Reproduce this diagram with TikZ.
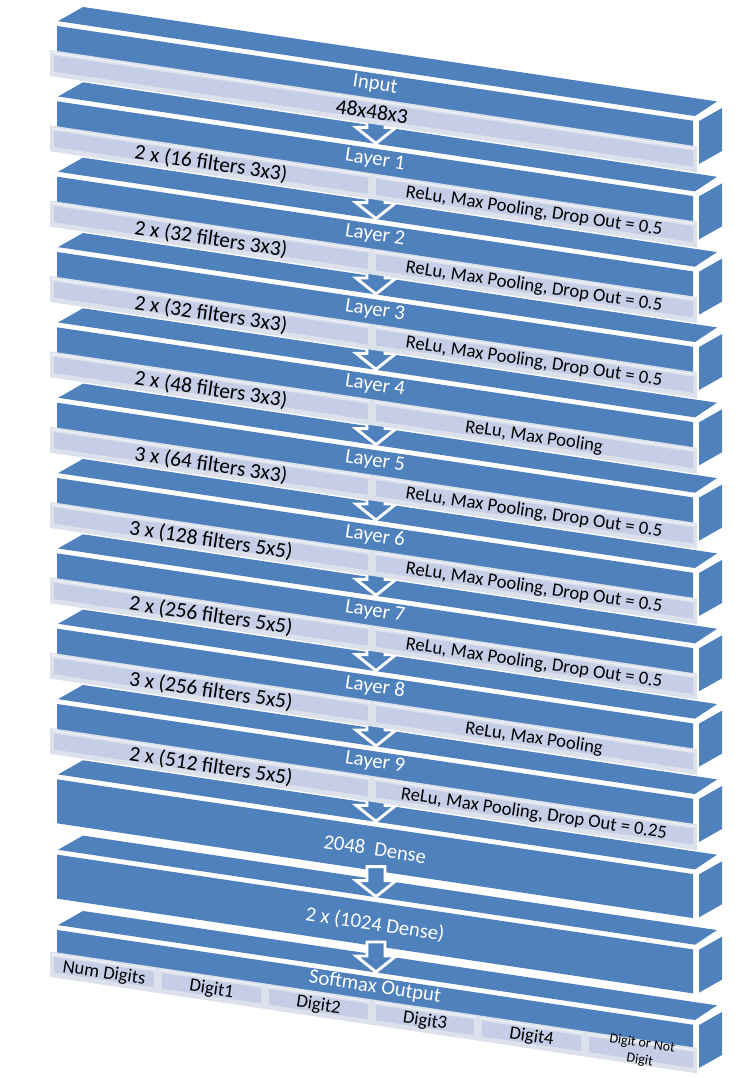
\documentclass[tikz,border=0pt]{standalone}
\usepackage{fontspec}
\setmainfont{Carlito}
\definecolor{slabblue}{HTML}{4F81BD}
\definecolor{barout}{HTML}{DCE1EC}
\definecolor{barin}{HTML}{C5CEE6}
\def\yo{0}
\tikzset{sl/.cd, x/.store in=\slX, h/.store in=\slH}
\tikzdeclarecoordinatesystem{sl}{%
  \tikzset{sl/.cd,#1}%
  \pgfmathsetmacro\slXX{\slX}%
  \pgfmathsetmacro\slY{\yo+0.149*(\slXX-57)+\slH}%
  \pgfpointxy{\slXX}{\slY}%
}
\newcommand{\barcell}[4]{%
  \fill[barout] (sl cs:x=#1,h=#3) -- (sl cs:x=#2,h=#3) -- (sl cs:x=#2,h=#4) -- (sl cs:x=#1,h=#4) -- cycle;
  \fill[barin] (sl cs:x=#1+4,h=#3+5) -- (sl cs:x=#2-4,h=#3+5) -- (sl cs:x=#2-4,h=#4-5) -- (sl cs:x=#1+4,h=#4-5) -- cycle;
  \draw[white!60!barout, line width=0.8pt] (sl cs:x=#1+2,h=#3+2.5) -- (sl cs:x=#2-2,h=#3+2.5);
}
\begin{document}
\begin{tikzpicture}[x=0.75pt,y=-0.75pt,
  slabface/.style={fill=slabblue},
  blockarrow/.style={fill=slabblue,draw=white,line width=2.2pt,line join=miter},
  layerlab/.style={text=white,font=\fontsize{15.5}{18}\selectfont,rotate=-8.47,inner sep=0pt},
  lefttxt/.style={text=black,font=\fontsize{16}{19}\selectfont,rotate=-8.47,inner sep=0pt},
  righttxt/.style={text=black,font=\fontsize{14}{17}\selectfont,rotate=-8.47,inner sep=0pt},
  smalltxt/.style={text=black,font=\fontsize{10.5}{12.5}\selectfont,rotate=-8.47,inner sep=0pt,align=center}]
\useasboundingbox (0,0) rectangle (750,1078);
% slabs
\foreach \k in {0,...,12}{
  \pgfmathsetmacro{\yo}{75.33*\k}
  \fill[slabface] (sl cs:x=58,h=21) -- (sl cs:x=695,h=21) -- (sl cs:x=717,h=3.1) -- (sl cs:x=83,h=3.1) -- cycle;
  \fill[slabface] (sl cs:x=57,h=26) -- (sl cs:x=693,h=26) -- (sl cs:x=693,h=70) -- (sl cs:x=57,h=70) -- cycle;
  \fill[slabface] (699,{\yo+121}) -- (722,{\yo+108}) -- (722,{\yo+151}) -- (699,{\yo+164}) -- cycle;
}
% arrows
\foreach \k in {1,...,12}{
  \coordinate (tip\k) at (376,{75.33*\k+68});
  \draw[blockarrow] (tip\k) ++(-9,-30) -- ++(18,0) -- ++(0,14) -- ++(11,0) -- (tip\k) -- ++(-20,-16) -- ++(11,0) -- cycle;
}
% input
\begin{scope}
  \def\yo{0}
  \barcell{50}{697}{51}{77}
  \node[layerlab] (lab0) at (sl cs:x=375,h=37.5) {Input};
  \node[lefttxt] (size0) at (sl cs:x=372,h=64.5) {48x48x3};
\end{scope}
% conv layers
\foreach \k/\lt/\rt in {
  1/{2 x (16 filters 3x3)}/{ReLu, Max Pooling, Drop Out = 0.5},
  2/{2 x (32 filters 3x3)}/{ReLu, Max Pooling, Drop Out = 0.5},
  3/{2 x (32 filters 3x3)}/{ReLu, Max Pooling, Drop Out = 0.5},
  4/{2 x (48 filters 3x3)}/{ReLu, Max Pooling},
  5/{3 x (64 filters 3x3)}/{ReLu, Max Pooling, Drop Out = 0.5},
  6/{3 x (128 filters 5x5)}/{ReLu, Max Pooling, Drop Out = 0.5},
  7/{2 x (256 filters 5x5)}/{ReLu, Max Pooling, Drop Out = 0.5},
  8/{3 x (256 filters 5x5)}/{ReLu, Max Pooling},
  9/{2 x (512 filters 5x5)}/{ReLu, Max Pooling, Drop Out = 0.25}}{
  \pgfmathsetmacro{\yo}{75.33*\k}
  \barcell{50}{372}{51}{77}
  \barcell{372}{697}{51}{77}
  \node[layerlab] (lab\k) at (sl cs:x=375,h=37.5) {Layer \k};
  \node[lefttxt] (lt\k) at (sl cs:x=211,h=65.5) {\lt};
  \node[righttxt] (rt\k) at (sl cs:x=534,h=65) {\rt};
}
% dense layers
\begin{scope}
  \pgfmathsetmacro{\yo}{75.33*10}
  \node[layerlab] (lab10) at (sl cs:x=375,h=48.3) {2048\ \ Dense};
\end{scope}
\begin{scope}
  \pgfmathsetmacro{\yo}{75.33*11}
  \node[layerlab] (lab11) at (sl cs:x=375,h=48.5) {2 x (1024 Dense)};
\end{scope}
% softmax output
\begin{scope}
  \pgfmathsetmacro{\yo}{75.33*12}
  \barcell{50}{158}{48.5}{74}
  \barcell{158}{265}{48.5}{74}
  \barcell{265}{372}{48.5}{74}
  \barcell{372}{478}{48.5}{74}
  \barcell{478}{585}{48.5}{74}
  \barcell{585}{697}{48.5}{74}
  \node[layerlab] (lab12) at (sl cs:x=375,h=36) {Softmax Output};
  \node[righttxt] (c1) at (sl cs:x=104,h=62.5) {Num Digits};
  \node[righttxt] (c2) at (sl cs:x=211.5,h=62.5) {Digit1};
  \node[righttxt] (c3) at (sl cs:x=318.5,h=62.5) {Digit2};
  \node[righttxt] (c4) at (sl cs:x=425,h=62.5) {Digit3};
  \node[righttxt] (c5) at (sl cs:x=531.5,h=62.5) {Digit4};
  \node[smalltxt] (c6) at (sl cs:x=641,h=61) {Digit or Not\\Digit};
\end{scope}
\end{tikzpicture}
\end{document}
